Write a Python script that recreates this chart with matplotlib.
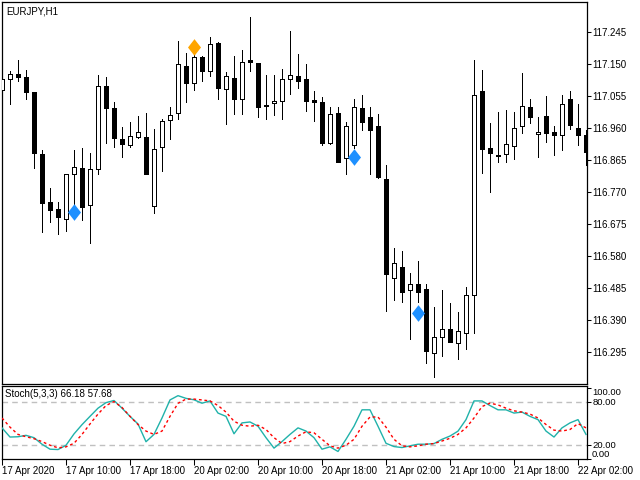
import matplotlib
matplotlib.use("Agg")
import matplotlib.pyplot as plt
import matplotlib.transforms as mtransforms
import numpy as np

plt.rcParams['font.family'] = ['Liberation Sans', 'DejaVu Sans']

# ---- data ----
opens = [117.069, 117.104, 117.119, 117.110, 117.063, 116.879, 116.739, 116.718, 116.688, 116.822,
         116.840, 116.730, 116.837, 117.083, 117.018, 116.926, 116.908, 116.932, 116.932, 116.727,
         116.902, 116.980, 117.003, 117.143, 117.092, 117.167, 117.128, 117.211, 117.072, 117.107,
         117.045, 117.158, 117.149, 117.027, 117.033, 117.039, 117.104, 117.113, 117.104, 117.042,
         117.036, 116.914, 117.003, 116.867, 116.908, 117.018, 116.989, 116.962, 116.805, 116.513,
         116.546, 116.478, 116.493, 116.481, 116.291, 116.338, 116.362, 116.320, 116.350, 116.463,
         117.066, 116.899, 116.873, 116.879, 116.905, 116.962, 117.021, 116.941, 116.994, 116.947,
         116.938, 117.045, 116.956, 116.938]
highs = [117.116, 117.128, 117.161, 117.131, 117.063, 116.894, 116.780, 116.739, 116.822, 116.894,
         116.899, 116.885, 117.116, 117.110, 117.036, 116.962, 116.977, 116.994, 117.003, 116.956,
         116.986, 117.021, 117.217, 117.182, 117.176, 117.173, 117.229, 117.214, 117.125, 117.173,
         117.191, 117.289, 117.149, 117.116, 117.116, 117.134, 117.247, 117.179, 117.149, 117.069,
         117.051, 117.021, 117.021, 116.977, 117.045, 117.057, 117.021, 117.000, 116.849, 116.603,
         116.594, 116.528, 116.564, 116.496, 116.427, 116.478, 116.439, 116.412, 116.487, 117.161,
         117.131, 116.974, 117.006, 117.012, 117.006, 117.122, 117.045, 116.992, 117.054, 116.965,
         117.057, 117.069, 117.030, 116.953]
lows = [117.063, 117.030, 117.098, 117.045, 116.840, 116.650, 116.680, 116.644, 116.653, 116.730,
        116.686, 116.617, 116.822, 116.914, 116.902, 116.873, 116.902, 116.929, 116.822, 116.706,
        116.831, 116.926, 116.986, 117.036, 117.072, 117.098, 117.113, 117.045, 116.971, 117.000,
        117.000, 117.128, 116.992, 116.986, 116.997, 116.986, 117.060, 117.077, 117.009, 116.980,
        116.908, 116.911, 116.858, 116.822, 116.899, 116.953, 116.822, 116.810, 116.415, 116.448,
        116.442, 116.332, 116.442, 116.261, 116.219, 116.282, 116.323, 116.273, 116.302, 116.350,
        116.825, 116.769, 116.858, 116.858, 116.867, 116.944, 116.974, 116.873, 116.917, 116.879,
        116.894, 116.956, 116.908, 116.849]
closes = [117.104, 117.119, 117.110, 117.063, 116.882, 116.736, 116.715, 116.694, 116.822, 116.843,
          116.724, 116.837, 117.083, 117.018, 116.929, 116.911, 116.935, 116.947, 116.822, 116.894,
          116.977, 116.997, 117.146, 117.092, 117.167, 117.128, 117.208, 117.077, 117.113, 117.045,
          117.152, 117.152, 117.021, 117.024, 117.039, 117.104, 117.116, 117.098, 117.039, 117.036,
          116.914, 117.000, 116.858, 116.962, 117.021, 116.974, 116.953, 116.813, 116.525, 116.558,
          116.472, 116.493, 116.472, 116.294, 116.338, 116.362, 116.323, 116.356, 116.463, 117.054,
          116.896, 116.882, 116.876, 116.911, 116.956, 117.024, 116.989, 116.947, 116.944, 116.938,
          117.030, 116.965, 116.938, 116.885]

stoch_k = [43.5, 30.6, 31, 33, 29.7, 20.5, 13.5, 13, 19, 35, 48, 59.7, 71.2, 79, 82, 71.2, 59.7, 49, 24, 34.3,
           57.4, 82.8, 88.8, 85, 83, 78.2, 81.4, 64.3, 59.7, 35.2, 50.5, 51.8, 45.8, 29.7, 15, 24.2, 34.3, 43.5,
           39, 29.7, 13.5, 16.8, 10.3, 27.4, 45.8, 68.9, 68.9, 45.8, 21.8, 17.2, 15.8, 18.2, 20.5, 20.5, 21.4,
           27.4, 32, 38.9, 55.1, 81.4, 81.4, 74.9, 68.9, 68.9, 64.3, 65.7, 59.7, 55.1, 39, 30.6, 43.5, 50.5,
           55.1, 34.3]
stoch_d = [57.4, 44.5, 34.3, 31, 28.3, 24.2, 19.1, 15.4, 16.8, 21.8, 34.3, 49, 62.9, 74.9, 80.5, 72.2, 59.7,
           48.2, 39, 34.3, 39, 59.7, 78, 84, 84, 82.8, 81.4, 74.9, 65.7, 52.8, 47.2, 45.8, 47.2, 41.2, 29.7,
           21.4, 24.2, 32, 38, 36.6, 27.4, 18.2, 15, 19.1, 27.4, 45.8, 58.8, 58.8, 44.5, 27.4, 18.2, 16.8,
           18.2, 20.5, 21.4, 25, 28.8, 34.3, 43.5, 57.4, 73.5, 78.2, 75.8, 71.2, 67.5, 65.7, 62.9, 57.4,
           48.2, 40.3, 39, 41.2, 49.5, 43.5]

buy_idx = [9, 44, 52]
buy_price = [116.709, 116.873, 116.409]
sell_idx = [24]
sell_price = [117.199]

xtick_idx = [0, 8, 16, 24, 32, 40, 48, 56, 64, 72]
xtick_labels = ["17 Apr 2020", "17 Apr 10:00", "17 Apr 18:00", "20 Apr 02:00", "20 Apr 10:00",
                "20 Apr 18:00", "21 Apr 02:00", "21 Apr 10:00", "21 Apr 18:00", "22 Apr 02:00"]
price_ticks = [116.295, 116.390, 116.485, 116.580, 116.675, 116.770, 116.865, 116.960, 117.055, 117.150, 117.245]
stoch_ticks = [0, 20, 80, 100]

# ---- figure ----
fig = plt.figure(figsize=(6.4, 4.8), dpi=100)
ax = fig.add_axes([2/640, 1 - 384/480, 585/640, 382/480])
ax2 = fig.add_axes([2/640, 21/480, 585/640, 73/480])

XLIM = (0, 73.125)
YLIM = (116.199, 117.333)
px_x = (XLIM[1] - XLIM[0]) / 585.0
px_y = (YLIM[1] - YLIM[0]) / 382.0

x = np.arange(len(opens))
o = np.array(opens); h = np.array(highs); l = np.array(lows); c = np.array(closes)

ax.vlines(x, l, h, color='black', linewidth=0.72, antialiased=False, zorder=2)
up = c >= o
bot = np.minimum(o, c)
top = np.maximum(o, c)
# outer black body (5 px wide)
ax.bar(x, (top - bot) + px_y, bottom=bot - 0.5 * px_y, width=5 * px_x, color='black',
       linewidth=0, antialiased=False, zorder=3)
# white interior for bullish candles (3 px wide)
inner_h = np.maximum((top - bot) - px_y, 0)
mask = up & (inner_h > 0)
ax.bar(x[mask], inner_h[mask], bottom=bot[mask] + 0.5 * px_y, width=3 * px_x, color='white',
       linewidth=0, antialiased=False, zorder=4)

diamond = [(0, 1), (0.78, 0), (0, -1), (-0.78, 0), (0, 1)]
ax.plot(buy_idx, buy_price, linestyle='none', marker=diamond, markersize=12,
        color='#1E90FF', markeredgewidth=0, zorder=5)
ax.plot(sell_idx, sell_price, linestyle='none', marker=diamond, markersize=12,
        color='#FFA500', markeredgewidth=0, zorder=5)

ax.set_xlim(*XLIM)
ax.set_ylim(*YLIM)
ax.yaxis.tick_right()
ax.set_yticks(price_ticks)
ax.set_yticklabels([f"{v:.3f}" for v in price_ticks])
ax.tick_params(axis='y', direction='out', length=3, width=0.75, pad=1, labelsize=7, colors='black')
ax.set_xticks([])
for s in ax.spines.values():
    s.set_linewidth(0.9)
ax.text(0.007, 0.988, "EURJPY,H1", transform=ax.transAxes, va='top', ha='left', fontsize=7)

# ---- stochastic ----
ax2.plot(x, stoch_k, color='#20B2AA', linewidth=1, zorder=3)
ax2.plot(x, stoch_d, color='#FF0000', linewidth=1, linestyle=(0, (2, 2)), zorder=3)
for lv in (20, 80):
    ax2.axhline(lv, color='#C0C0C0', linewidth=1, linestyle=(0, (4, 3)), zorder=1)
ax2.set_xlim(*XLIM)
ax2.set_ylim(-0.3, 102.4)
ax2.yaxis.tick_right()
ax2.set_yticks(stoch_ticks)
ax2.set_yticklabels(["", "20.00", "80.00", "100.00"])
ax2.tick_params(axis='y', direction='out', length=3, width=0.75, pad=1, labelsize=6.8)
ax2.get_yticklabels()[3].set_va('top')
trans = mtransforms.blended_transform_factory(ax2.transAxes, ax2.transData)
ax2.text(1.0, 0, "0.00", transform=trans + mtransforms.ScaledTranslation(5/100, 1.8/100, fig.dpi_scale_trans),
         va='baseline', ha='left', fontsize=6.8)
ax2.set_xticks(xtick_idx)
ax2.set_xticklabels(xtick_labels, ha='left')
ax2.tick_params(axis='x', direction='out', length=4, width=0.75, pad=1, labelsize=7)
for s in ax2.spines.values():
    s.set_linewidth(0.9)
ax2.text(0.005, 0.96, "Stoch(5,3,3) 66.18 57.68", transform=ax2.transAxes, va='top', ha='left', fontsize=7)

fig.savefig("out.png", dpi=100)
